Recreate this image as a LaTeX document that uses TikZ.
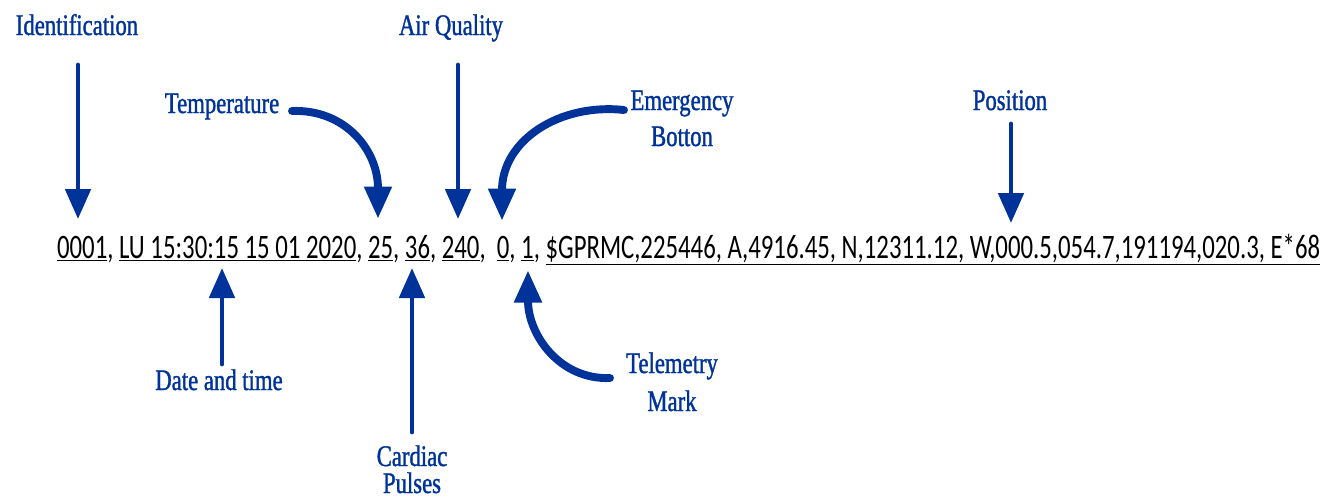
\documentclass[tikz,border=0pt]{standalone}
\usepackage{fontspec}
\setmainfont{Liberation Serif}[FakeStretch=0.76,FakeBold=1.2]
\newfontfamily\datafont{Carlito}
\usetikzlibrary{arrows.meta}
\definecolor{navy}{RGB}{0,51,153}
\begin{document}
\begin{tikzpicture}[x=0.02cm,y=-0.02cm,
  lbl/.style={text=navy,font=\fontsize{17}{20}\selectfont,inner sep=0pt,anchor=base},
  straightarrow/.style={draw=navy,line width=2.8pt,line cap=round,-{Triangle[width=0.5cm,length=0.6cm]}},
  curvedarrow/.style={draw=navy,line width=4.5pt,line cap=round,-{Triangle[width=0.52cm,length=0.65cm]}}]
\useasboundingbox (0,0) rectangle (1333,498);

% data line
\node[inner sep=0pt,anchor=base] (data) at (688.5,258)
  {\resizebox{25.26cm}{\height}{\datafont\fontsize{19.5}{22}\selectfont
  \underline{0001}, \underline{LU 15:30:15 15 01 2020}, \underline{25}, \underline{36}, \underline{240},\ \ \underline{0}, \underline{1}, \underline{\$GPRMC,225446, A,4916.45, N,12311.12, W,000.5,054.7,191194,020.3, E*68}}};

% labels
\node[lbl] (ident) at (77,35) {Identification};
\node[lbl] (temp) at (222,113) {Temperature};
\node[lbl] (air) at (451,35) {Air Quality};
\node[lbl] (emerg1) at (682,110) {Emergency};
\node[lbl] (emerg2) at (682,146) {Botton};
\node[lbl] (pos) at (1010,110) {Position};
\node[lbl] (date) at (219,390) {Date and time};
\node[lbl] (card1) at (412,466) {Cardiac};
\node[lbl] (card2) at (412,493) {Pulses};
\node[lbl] (tele1) at (672,373) {Telemetry};
\node[lbl] (tele2) at (672,411) {Mark};

% arrow endpoints
\coordinate (identS) at (78,65);   \coordinate (identT) at (78,219);
\coordinate (tempS) at (292,111);  \coordinate (tempT) at (378,219);
\coordinate (airS) at (458,65);    \coordinate (airT) at (458,219);
\coordinate (emS) at (624,110);    \coordinate (emT) at (502,221);
\coordinate (posS) at (1011,124);  \coordinate (posT) at (1011,223);
\coordinate (dateS) at (222,364);  \coordinate (dateT) at (222,268);
\coordinate (cardS) at (412,432);  \coordinate (cardT) at (412,268);
\coordinate (teleS) at (610,378);  \coordinate (teleT) at (528,270);

\draw[straightarrow] (identS) -- (identT);
\draw[straightarrow] (airS) -- (airT);
\draw[straightarrow] (posS) -- (posT);
\draw[straightarrow] (dateS) -- (dateT);
\draw[straightarrow] (cardS) -- (cardT);
\draw[curvedarrow] (tempS) .. controls (345,109) and (378,150) .. (tempT);
\draw[curvedarrow] (emS) .. controls (560,103) and (502,140) .. (emT);
\draw[curvedarrow] (teleS) .. controls (560,380) and (528,335) .. (teleT);
\end{tikzpicture}
\end{document}
